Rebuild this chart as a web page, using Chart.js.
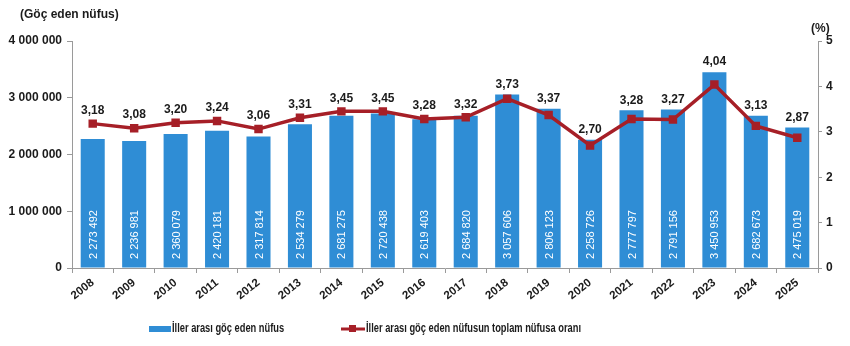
<!DOCTYPE html>
<html>
<head>
<meta charset="utf-8">
<script src="https://cdn.jsdelivr.net/npm/chart.js@4"></script>
<style>
  body { margin: 0; background: #fff; }
  #wrap { width: 850px; height: 346px; }
</style>
</head>
<body>
<div id="wrap"><canvas id="myChart" width="850" height="346"></canvas></div>
<script>
const years = ["2008", "2009", "2010", "2011", "2012", "2013", "2014", "2015", "2016",
  "2017", "2018", "2019", "2020", "2021", "2022", "2023", "2024", "2025"];
const migrants = [2273492, 2236981, 2360079, 2420181, 2317814, 2534279, 2681275, 2720438, 2619403,
  2684820, 3057606, 2806123, 2258726, 2777797, 2791156, 3450953, 2682673, 2475019];
const rates = [3.18, 3.08, 3.20, 3.24, 3.06, 3.31, 3.45, 3.45, 3.28,
  3.32, 3.73, 3.37, 2.70, 3.28, 3.27, 4.04, 3.13, 2.87];
const barLabel = "İller arası göç eden nüfus";
const lineLabel = "İller arası göç eden nüfusun toplam nüfusa oranı";

const blue = "#2F8DD5";
const red = "#A61F27";
const txt = "#1b1b1b";
const fontFam = "'Liberation Sans', Arial, sans-serif";

function fmtSpace(n) {
  return String(n).replace(/\B(?=(\d{3})+(?!\d))/g, " ");
}

// legend text is condensed in the original
function narrowText(c, s, x, y) {
  c.save();
  c.translate(x, y);
  c.scale(0.775, 1);
  c.fillText(s, 0, 0);
  c.restore();
}

const labelsPlugin = {
  id: "labels",
  afterDatasetsDraw(chart) {
    const c = chart.ctx;
    const bars = chart.getDatasetMeta(0).data;
    const pts = chart.getDatasetMeta(1).data;
    const bottom = chart.chartArea.bottom;
    c.save();
    // vertical values inside bars
    c.fillStyle = "#fff";
    c.font = "11px " + fontFam;
    c.textAlign = "left";
    c.textBaseline = "middle";
    bars.forEach((b, i) => {
      c.save();
      c.translate(b.x, bottom - 9);
      c.rotate(-Math.PI / 2);
      c.fillText(fmtSpace(migrants[i]), 0, 1);
      c.restore();
    });
    // rate values above the point, or above the bar if it is higher
    c.fillStyle = txt;
    c.font = "bold 12px " + fontFam;
    c.textAlign = "center";
    c.textBaseline = "middle";
    pts.forEach((p, i) => {
      const y = Math.min(p.y - 13, bars[i].y - 10);
      c.fillText(rates[i].toFixed(2).replace(".", ","), p.x, y);
    });
    c.restore();
  },
  afterDraw(chart) {
    const c = chart.ctx;
    c.save();
    c.fillStyle = txt;
    c.font = "bold 12px " + fontFam;
    c.textBaseline = "middle";
    c.textAlign = "left";
    c.fillText("(Göç eden nüfus)", 20, 15);
    c.fillText("(%)", 811, 29);
    // legend
    c.font = "bold 12px " + fontFam;
    c.fillStyle = blue;
    c.fillRect(149, 326, 22, 6);
    c.fillStyle = txt;
    narrowText(c, barLabel, 172, 329);
    c.strokeStyle = red;
    c.lineWidth = 3;
    c.beginPath();
    c.moveTo(341, 329);
    c.lineTo(365, 329);
    c.stroke();
    c.fillStyle = red;
    c.fillRect(349, 325, 7, 7);
    c.fillStyle = txt;
    narrowText(c, lineLabel, 366, 329);
    c.restore();
  }
};

const ctx = document.getElementById("myChart");
const myChart = new Chart(ctx, {
  type: "bar",
  data: {
    labels: years,
    datasets: [
      {
        type: "bar",
        label: barLabel,
        data: migrants,
        backgroundColor: blue,
        yAxisID: "y",
        barPercentage: 0.58,
        categoryPercentage: 1,
        order: 2
      },
      {
        type: "line",
        label: lineLabel,
        data: rates,
        borderColor: red,
        backgroundColor: red,
        borderWidth: 3.5,
        pointStyle: "rect",
        pointRadius: 3.5,
        pointBackgroundColor: red,
        pointBorderColor: red,
        tension: 0,
        yAxisID: "y1",
        order: 1
      }
    ]
  },
  options: {
    responsive: false,
    animation: false,
    layout: { padding: { top: 41, left: 0, right: 0, bottom: 0 } },
    plugins: {
      legend: { display: false },
      tooltip: { enabled: false }
    },
    scales: {
      x: {
        grid: { drawOnChartArea: false, offset: true, tickLength: 5, color: "#9a9a9a" },
        border: { color: "#9a9a9a" },
        ticks: {
          color: txt,
          font: { family: fontFam, size: 11.5, weight: "bold" },
          minRotation: 38,
          maxRotation: 38,
          padding: 3
        },
        afterFit(s) { s.height = 78; }
      },
      y: {
        position: "left",
        min: 0,
        max: 4000000,
        grid: { drawOnChartArea: false, tickLength: 5, color: "#9a9a9a" },
        border: { color: "#9a9a9a" },
        ticks: {
          stepSize: 1000000,
          color: txt,
          font: { family: fontFam, size: 12, weight: "bold" },
          padding: 5,
          callback: (v) => fmtSpace(v)
        },
        afterFit(s) { s.width = 72; }
      },
      y1: {
        position: "right",
        min: 0,
        max: 5,
        grid: { drawOnChartArea: false, tickLength: 4, color: "#9a9a9a" },
        border: { color: "#9a9a9a" },
        ticks: {
          stepSize: 1,
          color: txt,
          font: { family: fontFam, size: 12, weight: "bold" },
          padding: 4
        },
        afterFit(s) { s.width = 32; }
      }
    }
  },
  plugins: [labelsPlugin]
});
</script>
</body>
</html>
